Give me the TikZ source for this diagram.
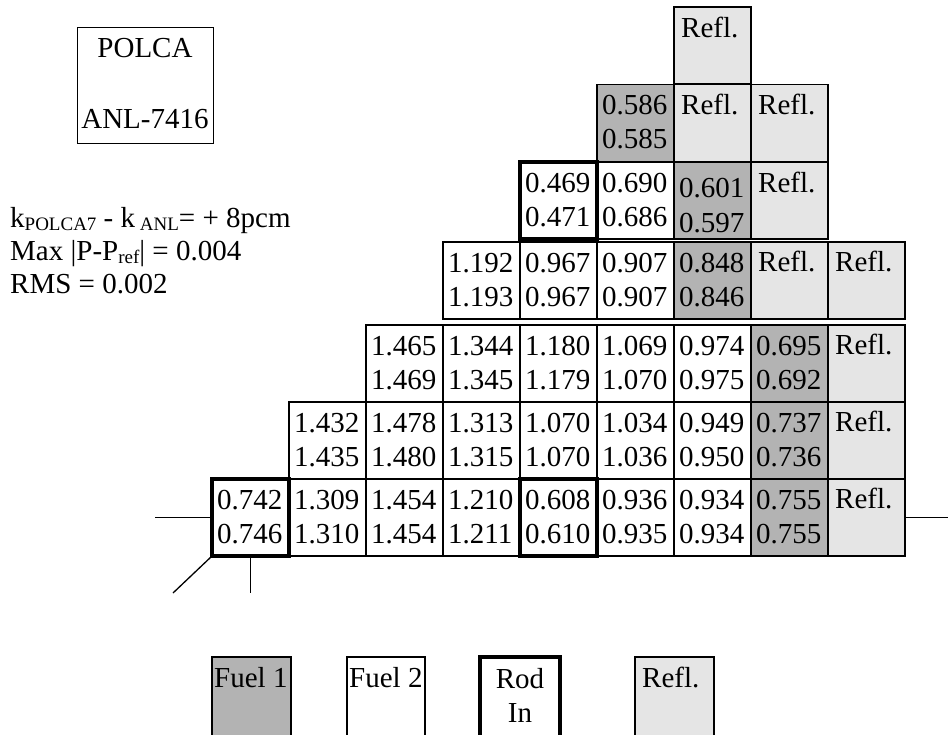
\documentclass[tikz,border=0pt]{standalone}
\usepackage{fontspec}
\setmainfont{Liberation Serif}
\usepackage{graphicx}
\definecolor{fuelgray}{HTML}{B3B3B3}
\definecolor{reflgray}{HTML}{E5E5E5}
\tikzset{
  cellnode/.style={rectangle, draw=black, line width=1.3pt, anchor=north west,
    minimum width=77pt, minimum height=77pt, inner sep=0pt, outer sep=0pt},
  plain/.style={},
  fuel/.style={fill=fuelgray},
  refl/.style={fill=reflgray},
  rodin/.style={line width=4.5pt},
  celltext/.style={anchor=base west, inner sep=0pt, font=\fontsize{29}{29}\selectfont},
  lbl/.style={inner sep=0pt, font=\fontsize{29}{29}\selectfont},
  conn/.style={draw=black, line width=1.3pt},
  legbox/.style={rectangle, draw=black, line width=1.3pt, anchor=north west,
    minimum height=90pt, inner sep=0pt, outer sep=0pt},
}
\newcommand{\sbx}[1]{\raisebox{-0.12em}{\fontsize{19}{19}\selectfont #1}}
% name, x, y, style, line1, line2
\newcommand{\gcell}[6]{%
  \node[cellnode,#4] (#1) at (#2,#3) {};
  \node[celltext] (#1a) at (#2+5,#3+30) {#5};
  \node[celltext] (#1b) at (#2+5,#3+64) {#6};
}
\begin{document}
\begin{tikzpicture}[x=1pt,y=-1pt]
\fill[white] (0,0) rectangle (948,734);
\clip (0,0) rectangle (948,734);

% title box
\node[rectangle, draw=black, line width=1.3pt, anchor=north west, minimum width=136pt,
  minimum height=116pt, inner sep=0pt] (polca) at (77,27) {};
\node[lbl, anchor=base] (polcat) at (145,57) {POLCA};
\node[lbl, anchor=base] (anlt) at (145,128) {ANL-7416};

% results text
\node[lbl, anchor=base west] (kline) at (10,227) {k\sbx{POLCA7} - k\sbx{ ANL}= + 8pcm};
\node[lbl, anchor=base west] (maxline) at (10,260) {Max |P-P\sbx{ref}| = 0.004};
\node[lbl, anchor=base west] (rmsline) at (10,293) {RMS = 0.002};

% row A
\node[cellnode,refl] (a6) at (674,7) {};
\node[celltext] (a6a) at (681,37) {Refl.};
% row B
\gcell{b5}{597}{84.5}{fuel}{0.586}{0.585}
\node[cellnode,refl] (b6) at (674,84.5) {};
\node[celltext] (b6a) at (681,114.5) {Refl.};
\node[cellnode,refl] (b7) at (751,84.5) {};
\node[celltext] (b7a) at (758,114.5) {Refl.};
% row C
\gcell{c5}{597}{162}{plain}{0.690}{0.686}
\node[cellnode,fuel] (c6) at (674,162) {};
\node[celltext] (c6a) at (679,197) {0.601};
\node[celltext] (c6b) at (679,232) {0.597};
\node[cellnode,refl] (c7) at (751,162) {};
\node[celltext] (c7a) at (758,192) {Refl.};
% row D
\gcell{d3}{443}{242}{plain}{1.192}{1.193}
\gcell{d4}{520}{242}{plain}{0.967}{0.967}
\gcell{d5}{597}{242}{plain}{0.907}{0.907}
\gcell{d6}{674}{242}{fuel}{0.848}{0.846}
\node[cellnode,refl] (d7) at (751,242) {};
\node[celltext] (d7a) at (758,271) {Refl.};
\node[cellnode,refl] (d8) at (828,242) {};
\node[celltext] (d8a) at (835,271) {Refl.};
% row E
\gcell{e2}{366}{325}{plain}{1.465}{1.469}
\gcell{e3}{443}{325}{plain}{1.344}{1.345}
\gcell{e4}{520}{325}{plain}{1.180}{1.179}
\gcell{e5}{597}{325}{plain}{1.069}{1.070}
\gcell{e6}{674}{325}{plain}{0.974}{0.975}
\gcell{e7}{751}{325}{fuel}{0.695}{0.692}
\node[cellnode,refl] (e8) at (828,325) {};
\node[celltext] (e8a) at (835,354) {Refl.};
% row F
\gcell{f1}{289}{402}{plain}{1.432}{1.435}
\gcell{f2}{366}{402}{plain}{1.478}{1.480}
\gcell{f3}{443}{402}{plain}{1.313}{1.315}
\gcell{f4}{520}{402}{plain}{1.070}{1.070}
\gcell{f5}{597}{402}{plain}{1.034}{1.036}
\gcell{f6}{674}{402}{plain}{0.949}{0.950}
\gcell{f7}{751}{402}{fuel}{0.737}{0.736}
\node[cellnode,refl] (f8) at (828,402) {};
\node[celltext] (f8a) at (835,431) {Refl.};
% row G
\gcell{g1}{289}{479}{plain}{1.309}{1.310}
\gcell{g2}{366}{479}{plain}{1.454}{1.454}
\gcell{g3}{443}{479}{plain}{1.210}{1.211}
\gcell{g5}{597}{479}{plain}{0.936}{0.935}
\gcell{g6}{674}{479}{plain}{0.934}{0.934}
\gcell{g7}{751}{479}{fuel}{0.755}{0.755}
\node[cellnode,refl] (g8) at (828,479) {};
\node[celltext] (g8a) at (835,508) {Refl.};
% rod-in cells (drawn last)
\gcell{c4}{520}{162}{rodin}{0.469}{0.471}
\gcell{g0}{212}{479}{rodin}{0.742}{0.746}
\gcell{g4}{520}{479}{rodin}{0.608}{0.610}

% symmetry lines
\coordinate (lw) at (155,517.5);
\coordinate (re) at (948,517.5);
\coordinate (dg) at (173,593);
\coordinate (vt) at (250.5,593);
\draw[conn] (lw) -- (g0.west);
\draw[conn] (g8.east) -- (re);
\draw[conn] (g0.south west) -- (dg);
\draw[conn] (g0.south) -- (vt);

% legend
\node[legbox, fuel, minimum width=79pt] (lf1) at (212,657) {};
\node[celltext] (lf1t) at (214,687) {Fuel 1};
\node[legbox, minimum width=78pt] (lf2) at (347,657) {};
\node[celltext] (lf2t) at (349,687) {Fuel 2};
\node[legbox, rodin, minimum width=80pt] (lrod) at (480,657) {};
\node[lbl, anchor=base] (lrodt) at (520,688) {Rod};
\node[lbl, anchor=base] (lint) at (520,722) {In};
\node[legbox, refl, minimum width=79pt] (lrefl) at (635,657) {};
\node[celltext] (lreflt) at (642,687) {Refl.};
\end{tikzpicture}
\end{document}
